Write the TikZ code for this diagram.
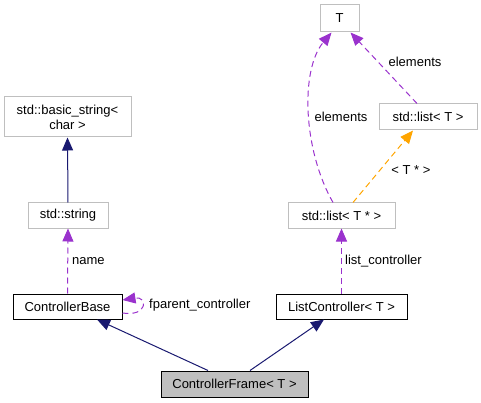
\documentclass[tikz,border=0pt]{standalone}
\usepackage{fontspec}
\setmainfont{Liberation Sans}
\usetikzlibrary{arrows.meta,calc}
\definecolor{navyc}{HTML}{191970}
\definecolor{orchidc}{HTML}{9A32CD}
\definecolor{orangec}{HTML}{FFA500}
\definecolor{boxgray}{HTML}{BFBFBF}
\definecolor{fillgray}{HTML}{BFBFBF}
\begin{document}
\begin{tikzpicture}[x=1pt,y=-1pt,
  every node/.style={font=\fontsize{13}{15}\selectfont, inner sep=0pt},
  graybox/.style={draw=boxgray, line width=1pt, fill=white, align=center},
  blackbox/.style={draw=black, line width=1pt, fill=white, align=center},
  inherit/.style={draw=navyc, line width=1pt, -{Triangle[length=13pt,width=11pt]}},
  usage/.style={draw=orchidc, line width=1pt, dash pattern=on 6pt off 4pt, -{Triangle[length=13pt,width=11pt]}},
  templ/.style={draw=orangec, line width=1pt, dash pattern=on 6pt off 4pt, -{Triangle[length=13pt,width=11pt]}},
  lbl/.style={font=\fontsize{13}{15}\selectfont}
]
\useasboundingbox (0,0) rectangle (481,403);
\node[graybox, minimum width=127pt, minimum height=40pt] (bs) at (67.5,117) {std::basic\_string<\\char >};
\node[graybox, minimum width=80pt, minimum height=25pt] (str) at (68,215.5) {std::string};
\node[blackbox, minimum width=109pt, minimum height=25pt] (cb) at (67.5,306.5) {ControllerBase};
\node[draw=black, line width=1pt, fill=fillgray, minimum width=147pt, minimum height=26pt] (cf) at (234.5,384) {ControllerFrame< T >};
\node[blackbox, minimum width=131pt, minimum height=25pt] (lc) at (341.5,306.5) {ListController< T >};
\node[graybox, minimum width=107pt, minimum height=25pt] (ltp) at (341.5,215.5) {std::list< T * >};
\node[graybox, minimum width=39pt, minimum height=27pt] (t) at (339.5,18.5) {T};
\node[graybox, minimum width=98pt, minimum height=26pt] (lt) at (428,117) {std::list< T >};

\draw[inherit] (str.north) -- (bs.south);
\draw[usage] (cb.north) -- (str.south);
\node[lbl, anchor=west] (nm) at (72,261) {name};
\draw[usage] ([yshift=-6.5pt]cb.east) .. controls (148,317) and (148,296) .. ([yshift=6.5pt]cb.east);
\node[lbl, anchor=west] (fp) at (149,305) {fparent\_controller};
\draw[inherit] ([xshift=-26.5pt]cf.north) -- ([xshift=29.5pt]cb.south);
\draw[inherit] ([xshift=15.5pt]cf.north) -- ([xshift=-17.5pt]lc.south);
\draw[usage] (lc.north) -- (ltp.north |- ltp.south);
\node[lbl, anchor=west] (lcl) at (345,261) {list\_controller};
\draw[usage] ([xshift=-8.5pt]ltp.north) .. controls (303,150) and (300,70) .. ([xshift=-8pt]t.south);
\node[lbl] (el1) at (341,117) {elements};
\draw[usage] ([xshift=-11pt]lt.north) -- ([xshift=11pt]t.south);
\node[lbl] (el2) at (415,62) {elements};
\draw[templ] ([xshift=11.5pt]ltp.north) -- ([xshift=-15pt]lt.south);
\node[lbl] (tt) at (411,170) {< T * >};
\end{tikzpicture}
\end{document}
